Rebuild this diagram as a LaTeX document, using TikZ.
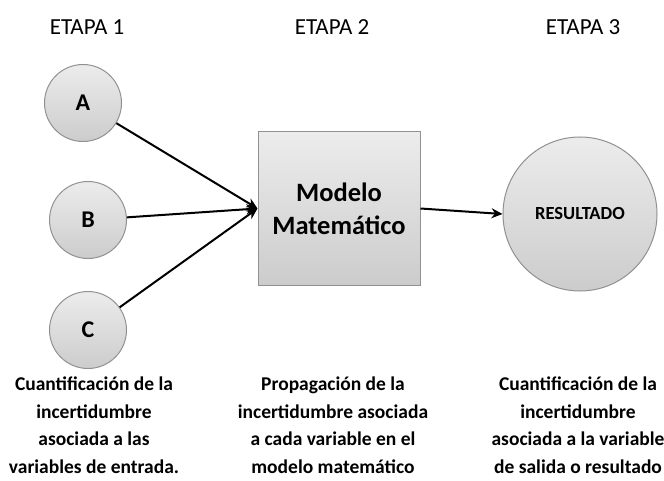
\documentclass[tikz,border=0pt]{standalone}
\usepackage{fontspec}
\setmainfont{Carlito}
\usetikzlibrary{arrows.meta, positioning}
\definecolor{bordegris}{RGB}{145,145,145}
\definecolor{grisclaro}{RGB}{236,236,236}
\definecolor{grisoscuro}{RGB}{204,204,204}

\begin{document}
\begin{tikzpicture}[x=1pt, y=-1pt,
  circ/.style={circle, draw=bordegris, line width=1pt, top color=grisclaro, bottom color=grisoscuro, minimum size=77pt, inner sep=0pt, font=\fontsize{24}{28}\selectfont\bfseries},
  caja/.style={draw=bordegris, line width=1pt, top color=grisclaro, bottom color=grisoscuro, minimum width=162pt, minimum height=153pt, align=center, font=\fontsize{26.5}{33}\selectfont\bfseries},
  etapa/.style={font=\fontsize{23}{27}\selectfont},
  desc/.style={align=center, font=\fontsize{19.5}{27.5}\selectfont\bfseries},
  flecha/.style={-{Stealth[length=11pt, width=10pt]}, line width=2pt}
]
  \useasboundingbox (0,0) rectangle (664,481);
  % etapas
  \node[etapa] (et1) at (87,27) {ETAPA 1};
  \node[etapa] (et2) at (332,27) {ETAPA 2};
  \node[etapa] (et3) at (583,27) {ETAPA 3};
  % variables de entrada
  \node[circ] (a) at (83,103) {A};
  \node[circ] (b) at (88,220) {B};
  \node[circ] (c) at (88,330) {C};
  % modelo y resultado
  \node[caja] (modelo) at (339,208.5) {Modelo\\Matemático};
  \node[circ, minimum size=154pt, font=\fontsize{18.5}{22}\selectfont\bfseries] (res) at (580,214) {RESULTADO};
  % conexiones
  \draw[flecha] (a) -- (modelo.west);
  \draw[flecha] (b) -- (modelo.west);
  \draw[flecha] (c) -- (modelo.west);
  \draw[flecha] (modelo.east) -- (res.west);
  % descripciones
  \node[desc] (d1) at (94,425) {Cuantificación de la\\incertidumbre\\asociada a las\\variables de entrada.};
  \node[desc] (d2) at (333,425) {Propagación de la\\incertidumbre asociada\\a cada variable en el\\modelo matemático};
  \node[desc] (d3) at (578,425) {Cuantificación de la\\incertidumbre\\asociada a la variable\\de salida o resultado};
\end{tikzpicture}
\end{document}
